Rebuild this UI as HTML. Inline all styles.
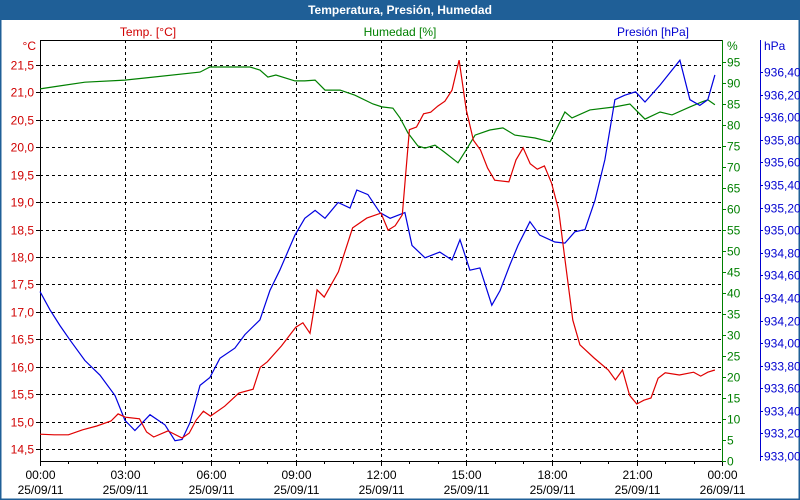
<!DOCTYPE html>
<html><head><meta charset="utf-8"><style>
body{margin:0;background:#fff;}
svg{display:block;font-family:"Liberation Sans",sans-serif;font-size:12px;}
</style></head><body>
<svg id="c" width="800" height="500" xmlns="http://www.w3.org/2000/svg">
<rect x="0" y="0" width="800" height="500" fill="#fff" stroke="#1f5f97" stroke-width="3"/>
<rect x="0" y="0" width="800" height="20" fill="#1f5f97"/>
<text x="400" y="14" text-anchor="middle" fill="#fff" font-weight="bold">Temperatura, Presión, Humedad</text>
<text x="148" y="36" text-anchor="middle" fill="#d00000">Temp. [°C]</text>
<text x="400" y="36" text-anchor="middle" fill="#008000">Humedad [%]</text>
<text x="653" y="36" text-anchor="middle" fill="#0000d0">Presión [hPa]</text>
<text x="36" y="50" text-anchor="end" fill="#d00000">°C</text>
<text x="727" y="50" fill="#008000">%</text>
<text x="764" y="50" fill="#0000d0">hPa</text>
<g id="grid"></g>
<g id="axes"></g>
<g id="series"></g>
</svg>
<script>
const tempHours=[0,0.5,1,1.5,2,2.5,2.75,3,3.5,3.75,4,4.5,5,5.25,5.5,5.75,6,6.5,7,7.5,7.75,8,8.5,9,9.25,9.5,9.75,10,10.5,11,11.5,12,12.25,12.5,12.75,13,13.25,13.5,13.75,14,14.25,14.5,14.75,15,15.25,15.5,15.75,16,16.5,16.75,17,17.25,17.5,17.75,18,18.25,18.5,18.75,19,19.5,20,20.25,20.5,20.75,21,21.25,21.5,21.75,22,22.5,23,23.25,23.5,23.75];
const tempValues=[14.77,14.76,14.76,14.85,14.92,15.01,15.14,15.08,15.05,14.81,14.72,14.83,14.70,14.79,15.03,15.19,15.10,15.28,15.52,15.59,15.99,16.09,16.38,16.72,16.80,16.61,17.40,17.27,17.73,18.53,18.71,18.80,18.49,18.57,18.77,20.32,20.37,20.61,20.64,20.75,20.84,21.04,21.59,20.68,20.13,19.95,19.62,19.40,19.37,19.77,19.99,19.70,19.60,19.66,19.35,18.86,17.85,16.85,16.40,16.16,15.94,15.76,15.94,15.48,15.32,15.39,15.43,15.79,15.89,15.85,15.90,15.83,15.90,15.94];
const humHours=[0,0.70,1.58,2.99,3.69,5.63,5.98,7.39,7.74,8.02,8.30,8.97,9.32,9.68,10.03,10.56,11.08,11.72,12.03,12.42,12.67,12.95,13.30,13.55,13.90,14.22,14.71,14.99,15.31,15.83,16.29,16.71,17.42,17.95,18.16,18.47,18.72,19.35,20.23,20.76,21.29,21.82,22.24,22.87,23.29,23.50,23.75];
const humValues=[88.6,89.3,90.2,90.7,91.2,92.6,93.8,93.8,93.1,91.4,91.9,90.5,90.5,90.7,88.3,88.3,87.1,85.0,84.3,84.0,81.7,78.1,75.0,74.5,75.2,73.6,71.0,74.0,77.6,78.8,79.3,77.6,76.9,76.0,78.8,83.1,81.7,83.6,84.3,85.0,81.4,83.1,82.4,84.3,85.5,86.0,84.8];
const presHours=[0,0.35,0.70,1.06,1.58,2.11,2.64,2.99,3.34,3.87,4.40,4.75,5.00,5.28,5.63,5.98,6.33,6.86,7.21,7.74,8.09,8.44,8.97,9.32,9.68,10.03,10.49,10.91,11.15,11.54,11.96,12.32,12.84,13.09,13.55,14.07,14.50,14.78,15.13,15.48,15.90,16.19,16.54,16.82,17.24,17.59,18.12,18.47,18.82,19.18,19.53,19.88,20.23,20.58,20.96,21.29,21.82,22.52,22.87,23.22,23.50,23.75];
const presValues=[934.50,934.34,934.20,934.07,933.89,933.76,933.58,933.36,933.27,933.41,933.32,933.18,933.19,933.34,933.67,933.74,933.91,934.00,934.12,934.25,934.51,934.69,935.00,935.15,935.22,935.15,935.29,935.24,935.40,935.36,935.20,935.15,935.20,934.91,934.80,934.85,934.78,934.96,934.69,934.71,934.38,934.51,934.74,934.91,935.12,935.00,934.94,934.93,935.03,935.05,935.31,935.67,936.20,936.24,936.27,936.18,936.33,936.55,936.20,936.15,936.20,936.42];
const tempTicks=["14,5","15,0","15,5","16,0","16,5","17,0","17,5","18,0","18,5","19,0","19,5","20,0","20,5","21,0","21,5"];
const humTicks=["0","5","10","15","20","25","30","35","40","45","50","55","60","65","70","75","80","85","90","95"];
const presTicks=["933,00","933,20","933,40","933,60","933,80","934,00","934,20","934,40","934,60","934,80","935,00","935,20","935,40","935,60","935,80","936,00","936,20","936,40"];
const timeLabels=["00:00","03:00","06:00","09:00","12:00","15:00","18:00","21:00","00:00"];
const dateLabels=["25/09/11","25/09/11","25/09/11","25/09/11","25/09/11","25/09/11","25/09/11","25/09/11","26/09/11"];

const L=40,R=722,T=40,B=461;
const xS=h=>L+h*(R-L)/24;
const yT=v=>65+(21.5-v)*54.86;
const yH=v=>B-v*4.2;
const yP=v=>B-(v-933)*112.9;
const num=s=>parseFloat(s.replace(',','.'));
const NS="http://www.w3.org/2000/svg";
function mk(tag,attrs,parent){const e=document.createElementNS(NS,tag);for(const k in attrs)e.setAttribute(k,attrs[k]);document.getElementById(parent).appendChild(e);return e;}

tempTicks.forEach(t=>{const y=Math.round(yT(num(t)))+0.5;
 const g=mk('line',{x1:L,x2:R,y1:y,y2:y,stroke:'#000','stroke-dasharray':'3,3'},'grid');
 
 
 const tk=mk('line',{x1:L-4,x2:L,y1:y,y2:y,stroke:'#000'},'axes');
 
 
 const tx=mk('text',{x:34,y:y+4,'text-anchor':'end',fill:'#d00000'},'axes');tx.textContent=t;
 
 
});
timeLabels.forEach((t,i)=>{const x=Math.round(xS(i*3))+0.5;
 if(i>0&&i<8){const g=mk('line',{x1:x,x2:x,y1:T,y2:B,stroke:'#000','stroke-dasharray':'3,3'},'grid');
 
 }
 const a=mk('text',{x:x,y:479,'text-anchor':'middle',fill:'#000'},'axes');a.textContent=t;
 
 
 const d=mk('text',{x:x,y:494,'text-anchor':'middle',fill:'#000'},'axes');d.textContent=dateLabels[i];
 
 
});
for(let h=0;h<=24;h++){const x=Math.round(xS(h))+0.5;
 const tk=mk('line',{x1:x,x2:x,y1:B,y2:B+(h%3?3:5),stroke:'#000'},'axes');
 
 }
humTicks.forEach(t=>{const y=Math.round(yH(num(t)))+0.5;
 const tk=mk('line',{x1:R,x2:R+4,y1:y,y2:y,stroke:'#008000'},'axes');
 
 
 const tx=mk('text',{x:727,y:y+4,fill:'#008000'},'axes');tx.textContent=t;
 
 
});
presTicks.forEach(t=>{const y=Math.round(yP(num(t)))-4.5;
 const tk=mk('line',{x1:760,x2:763,y1:y,y2:y,stroke:'#0000d0'},'axes');
 
 
 const tx=mk('text',{x:764,y:y+4,fill:'#0000d0'},'axes');tx.textContent=t;
 
 
});
[[L+0.5,T,L+0.5,B,'#000','y-axis-left'],[L,T+0.5,R,T+0.5,'#000','plot-top-border'],[L,B+0.5,R,B+0.5,'#000','x-axis'],[R+0.5,T,R+0.5,B,'#008000','humidity-axis'],[760.5,T,760.5,B,'#0000d0','pressure-axis']].forEach(a=>{
 const l=mk('line',{x1:a[0],y1:a[1],x2:a[2],y2:a[3],stroke:a[4]},'axes');
 
 
});
function line(hs,vs,yf,color,name){
 const p=mk('polyline',{points:hs.map((h,i)=>xS(h).toFixed(1)+','+yf(vs[i]).toFixed(1)).join(' '),fill:'none',stroke:color,'stroke-width':1.2},'series');
 
 
}
line(humHours,humValues,yH,'#008000','humidity-line');
line(presHours,presValues,yP,'#0000e0','pressure-line');
line(tempHours,tempValues,yT,'#e00000','temperature-line');
</script>
</body></html>
